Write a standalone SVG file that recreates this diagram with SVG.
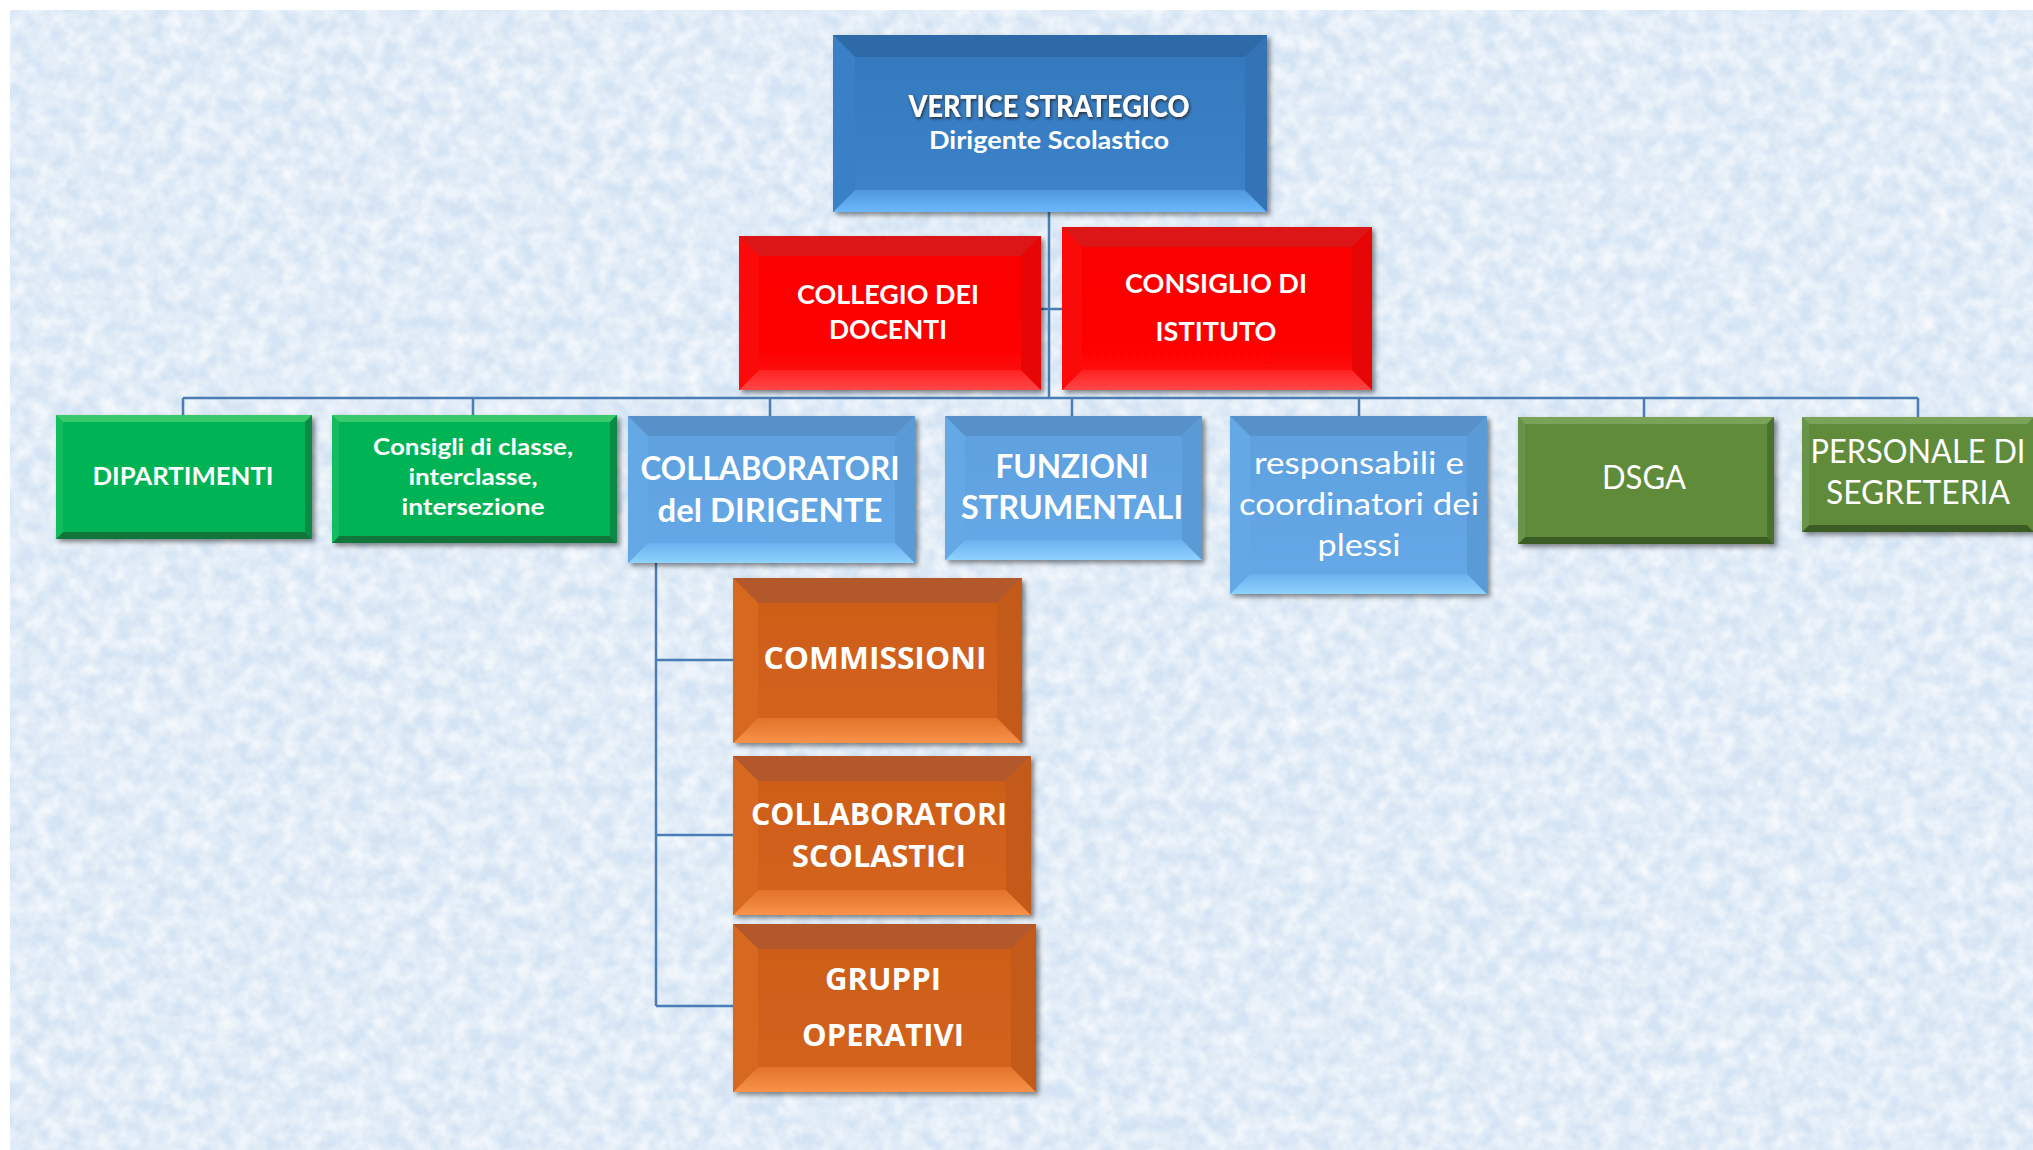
<svg xmlns="http://www.w3.org/2000/svg" width="2033" height="1150" viewBox="0 0 2033 1150">
<defs>
  <filter id="tex" x="0" y="0" width="100%" height="100%">
    <feTurbulence type="fractalNoise" baseFrequency="0.06" numOctaves="3" seed="7" result="n"/>
    <feColorMatrix in="n" type="matrix" values="0 0 0 0 1  0 0 0 0 1  0 0 0 0 1  1.3 0 0 0 -0.35" result="w"/>
    <feComposite in="w" in2="SourceGraphic" operator="in"/>
  </filter>
  <filter id="sh" x="-5%" y="-5%" width="112%" height="115%">
    <feDropShadow dx="3" dy="3" stdDeviation="2.5" flood-color="#000" flood-opacity="0.45"/>
  </filter>
  <filter id="tsh" x="-5%" y="-20%" width="110%" height="140%">
    <feDropShadow dx="1" dy="1.5" stdDeviation="1.5" flood-color="#1a1a1a" flood-opacity="0.9"/>
  </filter>
  <linearGradient id="gBlue" x1="0" y1="0" x2="0" y2="1">
    <stop offset="0" stop-color="#3378bd"/><stop offset="1" stop-color="#3d84ca"/>
  </linearGradient>
  <linearGradient id="gBlueB" x1="0" y1="0" x2="0" y2="1">
    <stop offset="0" stop-color="#4f98dc"/><stop offset="1" stop-color="#6cb8fc"/>
  </linearGradient>
  <linearGradient id="gRed" x1="0" y1="0" x2="0" y2="1">
    <stop offset="0" stop-color="#fa0000"/><stop offset="1" stop-color="#ff0808"/>
  </linearGradient>
  <linearGradient id="gRedB" x1="0" y1="0" x2="0" y2="1">
    <stop offset="0" stop-color="#ff2222"/><stop offset="1" stop-color="#ff4646"/>
  </linearGradient>
  <linearGradient id="gLBlue" x1="0" y1="0" x2="0" y2="1">
    <stop offset="0" stop-color="#5e9fdd"/><stop offset="1" stop-color="#66a9e8"/>
  </linearGradient>
  <linearGradient id="gLBlueB" x1="0" y1="0" x2="0" y2="1">
    <stop offset="0" stop-color="#6cb1ee"/><stop offset="1" stop-color="#8ed2ff"/>
  </linearGradient>
  <linearGradient id="gOrange" x1="0" y1="0" x2="0" y2="1">
    <stop offset="0" stop-color="#cc5c18"/><stop offset="1" stop-color="#d4641c"/>
  </linearGradient>
  <linearGradient id="gOrangeB" x1="0" y1="0" x2="0" y2="1">
    <stop offset="0" stop-color="#e2732a"/><stop offset="1" stop-color="#f8924a"/>
  </linearGradient>
  <style>
    .bg{fill:#d5e4f4}
    .blue .base{fill:url(#gBlue)}
    .blue .t{fill:#2e6aa8}
    .blue .b{fill:url(#gBlueB)}
    .blue .l{fill:#3a80c6}
    .blue .r{fill:#3474b6}
    .red .base{fill:url(#gRed)}
    .red .t{fill:#dc1616}
    .red .b{fill:url(#gRedB)}
    .red .l{fill:#fb0a0a}
    .red .r{fill:#e60606}
    .lblue .base{fill:url(#gLBlue)}
    .lblue .t{fill:#5891ca}
    .lblue .b{fill:url(#gLBlueB)}
    .lblue .l{fill:#64a8e6}
    .lblue .r{fill:#5a9bd6}
    .orange .base{fill:url(#gOrange)}
    .orange .t{fill:#b2582a}
    .orange .b{fill:url(#gOrangeB)}
    .orange .l{fill:#d66820}
    .orange .r{fill:#c45a1a}
    .green .base{fill:#04b454}
    .green .t{fill:#3ac86c}
    .green .b{fill:#12763c}
    .green .l{fill:#14bc60}
    .green .r{fill:#0a8a44}
    .olive .base{fill:#5e8b3b}
    .olive .t{fill:#7aa258}
    .olive .b{fill:#3b5c24}
    .olive .l{fill:#68944a}
    .olive .r{fill:#4a7030}
    text{fill:#fff;text-anchor:middle}
    .lb{font-family:Lato,"Liberation Sans",sans-serif;font-weight:700}
    .lk{font-family:Lato,"Liberation Sans",sans-serif;font-weight:900}
    .lr{font-family:Lato,"Liberation Sans",sans-serif;font-weight:400}
    .ob{font-family:"Open Sans","Liberation Sans",sans-serif;font-weight:700}
    .conn{fill:none;stroke:#4a7db5;stroke-width:2.5}
  </style>
</defs>

<rect x="0" y="0" width="2033" height="1150" fill="#fff"/>
<rect class="bg" x="10" y="10" width="2023" height="1140"/>
<rect x="10" y="10" width="2023" height="1140" fill="#fff" filter="url(#tex)"/>

<g id="connectors">
  <path class="conn" d="M1049 212 V398 M1041 309 H1062 M183 398 H1918 M183 398 V415 M473 398 V415 M770 398 V416 M1072 398 V416 M1359 398 V416 M1644 398 V417 M1918 398 V417"/>
  <path class="conn" d="M656 563 V1006 M656 660 H733 M656 835 H733 M656 1006 H733"/>
</g>

<g id="vertice" class="blue">
  <rect class="base" x="833" y="35" width="434" height="177" filter="url(#sh)"/>
  <polygon class="t" points="833,35 1267,35 1245,57 855,57"/>
  <polygon class="b" points="833,212 1267,212 1245,190 855,190"/>
  <polygon class="l" points="833,35 855,57 855,190 833,212"/>
  <polygon class="r" points="1267,35 1245,57 1245,190 1267,212"/>
  <text class="lk" x="1049" y="117" font-size="30" textLength="281" lengthAdjust="spacingAndGlyphs" filter="url(#tsh)">VERTICE STRATEGICO</text>
  <text class="lb" x="1049" y="149" font-size="24" textLength="240" lengthAdjust="spacingAndGlyphs">Dirigente Scolastico</text>
</g>

<g id="collegio" class="red">
  <rect class="base" x="739" y="236" width="302" height="154" filter="url(#sh)"/>
  <polygon class="t" points="739,236 1041,236 1021,256 759,256"/>
  <polygon class="b" points="739,390 1041,390 1021,370 759,370"/>
  <polygon class="l" points="739,236 759,256 759,370 739,390"/>
  <polygon class="r" points="1041,236 1021,256 1021,370 1041,390"/>
  <text class="lb" x="888" y="304" font-size="27" textLength="182" lengthAdjust="spacingAndGlyphs">COLLEGIO DEI</text>
  <text class="lb" x="888" y="339" font-size="27" textLength="118" lengthAdjust="spacingAndGlyphs">DOCENTI</text>
</g>

<g id="consiglio" class="red">
  <rect class="base" x="1062" y="227" width="310" height="163" filter="url(#sh)"/>
  <polygon class="t" points="1062,227 1372,227 1352,247 1082,247"/>
  <polygon class="b" points="1062,390 1372,390 1352,370 1082,370"/>
  <polygon class="l" points="1062,227 1082,247 1082,370 1062,390"/>
  <polygon class="r" points="1372,227 1352,247 1352,370 1372,390"/>
  <text class="lb" x="1216" y="293" font-size="27" textLength="182" lengthAdjust="spacingAndGlyphs">CONSIGLIO DI</text>
  <text class="lb" x="1216" y="341" font-size="27" textLength="121" lengthAdjust="spacingAndGlyphs">ISTITUTO</text>
</g>

<g id="dipartimenti" class="green">
  <rect class="base" x="56" y="415" width="256" height="124" filter="url(#sh)"/>
  <polygon class="t" points="56,415 312,415 305,422 63,422"/>
  <polygon class="b" points="56,539 312,539 305,532 63,532"/>
  <polygon class="l" points="56,415 63,422 63,532 56,539"/>
  <polygon class="r" points="312,415 305,422 305,532 312,539"/>
  <text class="lb" x="183" y="485" font-size="24" textLength="181" lengthAdjust="spacingAndGlyphs">DIPARTIMENTI</text>
</g>

<g id="consigli" class="green">
  <rect class="base" x="332" y="415" width="285" height="128" filter="url(#sh)"/>
  <polygon class="t" points="332,415 617,415 610,422 339,422"/>
  <polygon class="b" points="332,543 617,543 610,536 339,536"/>
  <polygon class="l" points="332,415 339,422 339,536 332,543"/>
  <polygon class="r" points="617,415 610,422 610,536 617,543"/>
  <text class="lb" x="473" y="455" font-size="23" textLength="200" lengthAdjust="spacingAndGlyphs">Consigli di classe,</text>
  <text class="lb" x="473" y="485" font-size="23" textLength="129" lengthAdjust="spacingAndGlyphs">interclasse,</text>
  <text class="lb" x="473" y="515" font-size="23" textLength="143" lengthAdjust="spacingAndGlyphs">intersezione</text>
</g>

<g id="collaboratori-dirigente" class="lblue">
  <rect class="base" x="628" y="416" width="287" height="147" filter="url(#sh)"/>
  <polygon class="t" points="628,416 915,416 895,436 648,436"/>
  <polygon class="b" points="628,563 915,563 895,543 648,543"/>
  <polygon class="l" points="628,416 648,436 648,543 628,563"/>
  <polygon class="r" points="915,416 895,436 895,543 915,563"/>
  <text class="lb" x="770" y="480" font-size="33" textLength="259" lengthAdjust="spacingAndGlyphs">COLLABORATORI</text>
  <text class="lb" x="770" y="522" font-size="33" textLength="225" lengthAdjust="spacingAndGlyphs">del DIRIGENTE</text>
</g>

<g id="funzioni" class="lblue">
  <rect class="base" x="945" y="416" width="257" height="144" filter="url(#sh)"/>
  <polygon class="t" points="945,416 1202,416 1182,436 965,436"/>
  <polygon class="b" points="945,560 1202,560 1182,540 965,540"/>
  <polygon class="l" points="945,416 965,436 965,540 945,560"/>
  <polygon class="r" points="1202,416 1182,436 1182,540 1202,560"/>
  <text class="lb" x="1072" y="478" font-size="33" textLength="153" lengthAdjust="spacingAndGlyphs">FUNZIONI</text>
  <text class="lb" x="1072" y="519" font-size="33" textLength="222" lengthAdjust="spacingAndGlyphs">STRUMENTALI</text>
</g>

<g id="responsabili" class="lblue">
  <rect class="base" x="1230" y="416" width="257" height="178" filter="url(#sh)"/>
  <polygon class="t" points="1230,416 1487,416 1467,436 1250,436"/>
  <polygon class="b" points="1230,594 1487,594 1467,574 1250,574"/>
  <polygon class="l" points="1230,416 1250,436 1250,574 1230,594"/>
  <polygon class="r" points="1487,416 1467,436 1467,574 1487,594"/>
  <text class="lr" x="1359" y="474" font-size="31" textLength="210" lengthAdjust="spacingAndGlyphs">responsabili e</text>
  <text class="lr" x="1359" y="515" font-size="31" textLength="240" lengthAdjust="spacingAndGlyphs">coordinatori dei</text>
  <text class="lr" x="1359" y="556" font-size="31" textLength="83" lengthAdjust="spacingAndGlyphs">plessi</text>
</g>

<g id="dsga" class="olive">
  <rect class="base" x="1518" y="417" width="256" height="127" filter="url(#sh)"/>
  <polygon class="t" points="1518,417 1774,417 1767,424 1525,424"/>
  <polygon class="b" points="1518,544 1774,544 1767,537 1525,537"/>
  <polygon class="l" points="1518,417 1525,424 1525,537 1518,544"/>
  <polygon class="r" points="1774,417 1767,424 1767,537 1774,544"/>
  <text class="lr" x="1644" y="489" font-size="32" textLength="84" lengthAdjust="spacingAndGlyphs">DSGA</text>
</g>

<g id="personale" class="olive">
  <rect class="base" x="1802" y="417" width="232" height="115" filter="url(#sh)"/>
  <polygon class="t" points="1802,417 2034,417 2027,424 1809,424"/>
  <polygon class="b" points="1802,532 2034,532 2027,525 1809,525"/>
  <polygon class="l" points="1802,417 1809,424 1809,525 1802,532"/>
  <text class="lr" x="1918" y="463" font-size="32" textLength="215" lengthAdjust="spacingAndGlyphs">PERSONALE DI</text>
  <text class="lr" x="1918" y="504" font-size="32" textLength="184" lengthAdjust="spacingAndGlyphs">SEGRETERIA</text>
</g>

<g id="commissioni" class="orange">
  <rect class="base" x="733" y="578" width="289" height="165" filter="url(#sh)"/>
  <polygon class="t" points="733,578 1022,578 997,603 758,603"/>
  <polygon class="b" points="733,743 1022,743 997,718 758,718"/>
  <polygon class="l" points="733,578 758,603 758,718 733,743"/>
  <polygon class="r" points="1022,578 997,603 997,718 1022,743"/>
  <text class="ob" x="875" y="669" font-size="30" textLength="223" lengthAdjust="spacingAndGlyphs">COMMISSIONI</text>
</g>

<g id="collaboratori-scolastici" class="orange">
  <rect class="base" x="733" y="756" width="298" height="159" filter="url(#sh)"/>
  <polygon class="t" points="733,756 1031,756 1006,781 758,781"/>
  <polygon class="b" points="733,915 1031,915 1006,890 758,890"/>
  <polygon class="l" points="733,756 758,781 758,890 733,915"/>
  <polygon class="r" points="1031,756 1006,781 1006,890 1031,915"/>
  <text class="ob" x="879" y="825" font-size="30" textLength="256" lengthAdjust="spacingAndGlyphs">COLLABORATORI</text>
  <text class="ob" x="879" y="867" font-size="30" textLength="174" lengthAdjust="spacingAndGlyphs">SCOLASTICI</text>
</g>

<g id="gruppi" class="orange">
  <rect class="base" x="733" y="924" width="303" height="168" filter="url(#sh)"/>
  <polygon class="t" points="733,924 1036,924 1011,949 758,949"/>
  <polygon class="b" points="733,1092 1036,1092 1011,1067 758,1067"/>
  <polygon class="l" points="733,924 758,949 758,1067 733,1092"/>
  <polygon class="r" points="1036,924 1011,949 1011,1067 1036,1092"/>
  <text class="ob" x="883" y="990" font-size="30" textLength="116" lengthAdjust="spacingAndGlyphs">GRUPPI</text>
  <text class="ob" x="883" y="1046" font-size="30" textLength="162" lengthAdjust="spacingAndGlyphs">OPERATIVI</text>
</g>
</svg>
